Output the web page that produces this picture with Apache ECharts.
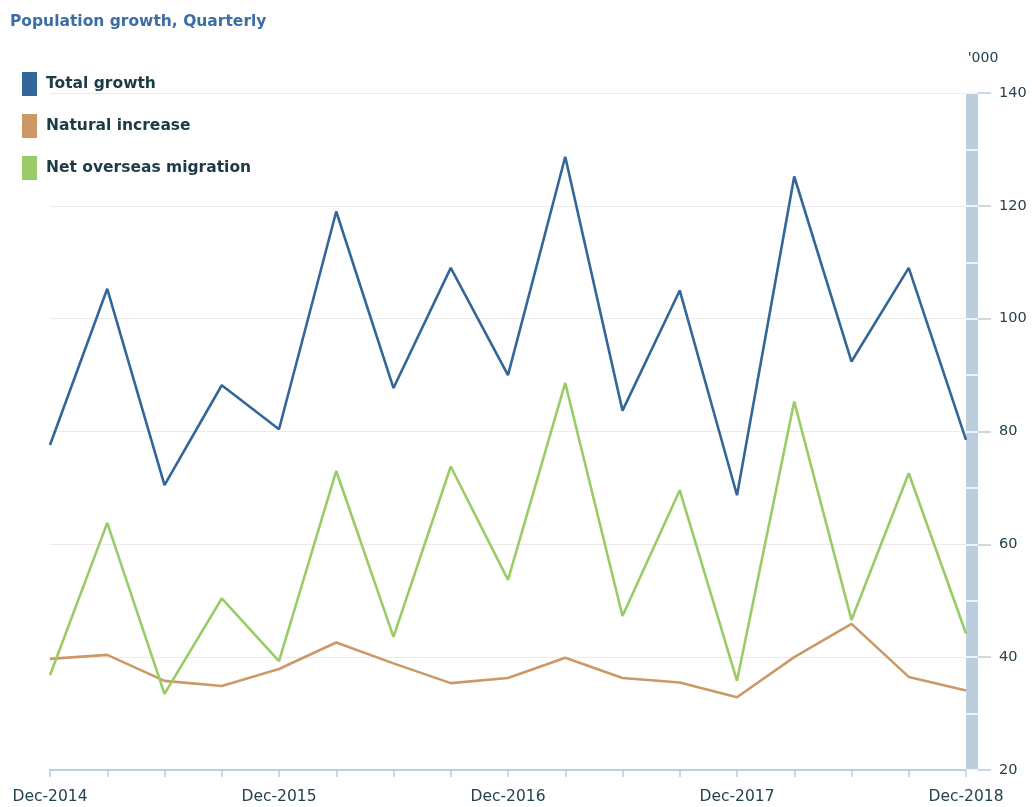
<!DOCTYPE html>
<html>
<head>
<meta charset="utf-8">
<title>Population growth, Quarterly</title>
<script src="https://cdn.jsdelivr.net/npm/echarts@6/dist/echarts.min.js"></script>
<style>
  html, body { margin: 0; padding: 0; background: #ffffff; }
  #chart { width: 1032px; height: 807px; }
</style>
</head>
<body>
<div id="chart"></div>
<script>
// Quarterly periods, Dec-2014 to Dec-2018
const quarters = [
  'Dec-2014', 'Mar-2015', 'Jun-2015', 'Sep-2015',
  'Dec-2015', 'Mar-2016', 'Jun-2016', 'Sep-2016',
  'Dec-2016', 'Mar-2017', 'Jun-2017', 'Sep-2017',
  'Dec-2017', 'Mar-2018', 'Jun-2018', 'Sep-2018',
  'Dec-2018'
];

// Values in thousands ('000)
const totalGrowth = [77.6, 105.3, 70.5, 88.2, 80.4, 119.0, 87.7, 109.0, 90.0, 128.7, 83.7, 105.0, 68.7, 125.2, 92.4, 109.0, 78.5];
const naturalIncrease = [39.7, 40.4, 35.8, 34.9, 37.9, 42.6, 38.9, 35.4, 36.3, 39.9, 36.3, 35.5, 32.9, 40.0, 45.9, 36.5, 34.1];
const netOverseasMigration = [36.8, 63.8, 33.5, 50.4, 39.3, 73.0, 43.6, 73.8, 53.7, 88.6, 47.3, 69.6, 35.8, 85.3, 46.6, 72.6, 44.2];

const seriesNames = ['Total growth', 'Natural increase', 'Net overseas migration'];
const seriesColors = ['#336699', '#cc9966', '#99cc66'];

const axisBlue = '#bccddd';
const labelColor = '#24434f';
const font = '"DejaVu Sans", Verdana, sans-serif';

const chart = echarts.init(document.getElementById('chart'), null, { renderer: 'canvas' });

function lineSeries(name, data, color) {
  return {
    name: name,
    type: 'line',
    data: data,
    yAxisIndex: 0,
    showSymbol: false,
    symbol: 'none',
    lineStyle: { color: color, width: 2.6 },
    itemStyle: { color: color },
    emphasis: { disabled: true }
  };
}

chart.setOption({
  animation: false,
  backgroundColor: '#ffffff',
  title: {
    text: 'Population growth, Quarterly',
    left: 5,
    top: 9,
    textStyle: { color: '#3c6ea6', fontSize: 15.5, fontWeight: 'bold', fontFamily: font }
  },
  legend: {
    orient: 'vertical',
    left: 17,
    top: 67,
    icon: 'rect',
    itemWidth: 15,
    itemHeight: 24,
    itemGap: 18,
    data: seriesNames,
    textStyle: { color: '#1d3b45', fontSize: 15.5, fontWeight: 'bold', fontFamily: font, padding: [0, 0, 0, 4] }
  },
  grid: { left: 50, right: 66, top: 93, bottom: 37, containLabel: false },
  xAxis: {
    type: 'category',
    data: quarters,
    boundaryGap: false,
    axisLine: { show: true, lineStyle: { color: axisBlue, width: 2 } },
    axisTick: { show: true, interval: 0, length: 7, lineStyle: { color: axisBlue, width: 1.5 } },
    axisLabel: { interval: 3, margin: 19, color: labelColor, fontSize: 15.5, fontFamily: font },
    splitLine: { show: false }
  },
  yAxis: [
    {
      type: 'value',
      position: 'right',
      offset: 6,
      min: 20,
      max: 140,
      interval: 20,
      name: "'000",
      nameLocation: 'end',
      nameGap: 28,
      nameTextStyle: { color: labelColor, fontSize: 14, fontFamily: font, padding: [0, 0, 0, 22] },
      axisLine: { show: true, lineStyle: { color: axisBlue, width: 12, cap: 'butt' } },
      axisTick: { show: true, length: 19, lineStyle: { color: axisBlue, width: 1.5 } },
      axisLabel: { margin: 27, color: labelColor, fontSize: 14.5, fontFamily: font },
      splitLine: { show: true, lineStyle: { color: '#ebebeb', width: 1 } }
    },
    {
      // white breaks across the axis band every 10
      type: 'value',
      position: 'right',
      offset: 0,
      min: 20,
      max: 140,
      interval: 10,
      axisLine: { show: false },
      axisTick: { show: true, length: 12, lineStyle: { color: '#ffffff', width: 1.5 } },
      axisLabel: { show: false },
      splitLine: { show: false }
    }
  ],
  series: [
    lineSeries(seriesNames[0], totalGrowth, seriesColors[0]),
    lineSeries(seriesNames[1], naturalIncrease, seriesColors[1]),
    lineSeries(seriesNames[2], netOverseasMigration, seriesColors[2])
  ]
});
</script>
</body>
</html>
